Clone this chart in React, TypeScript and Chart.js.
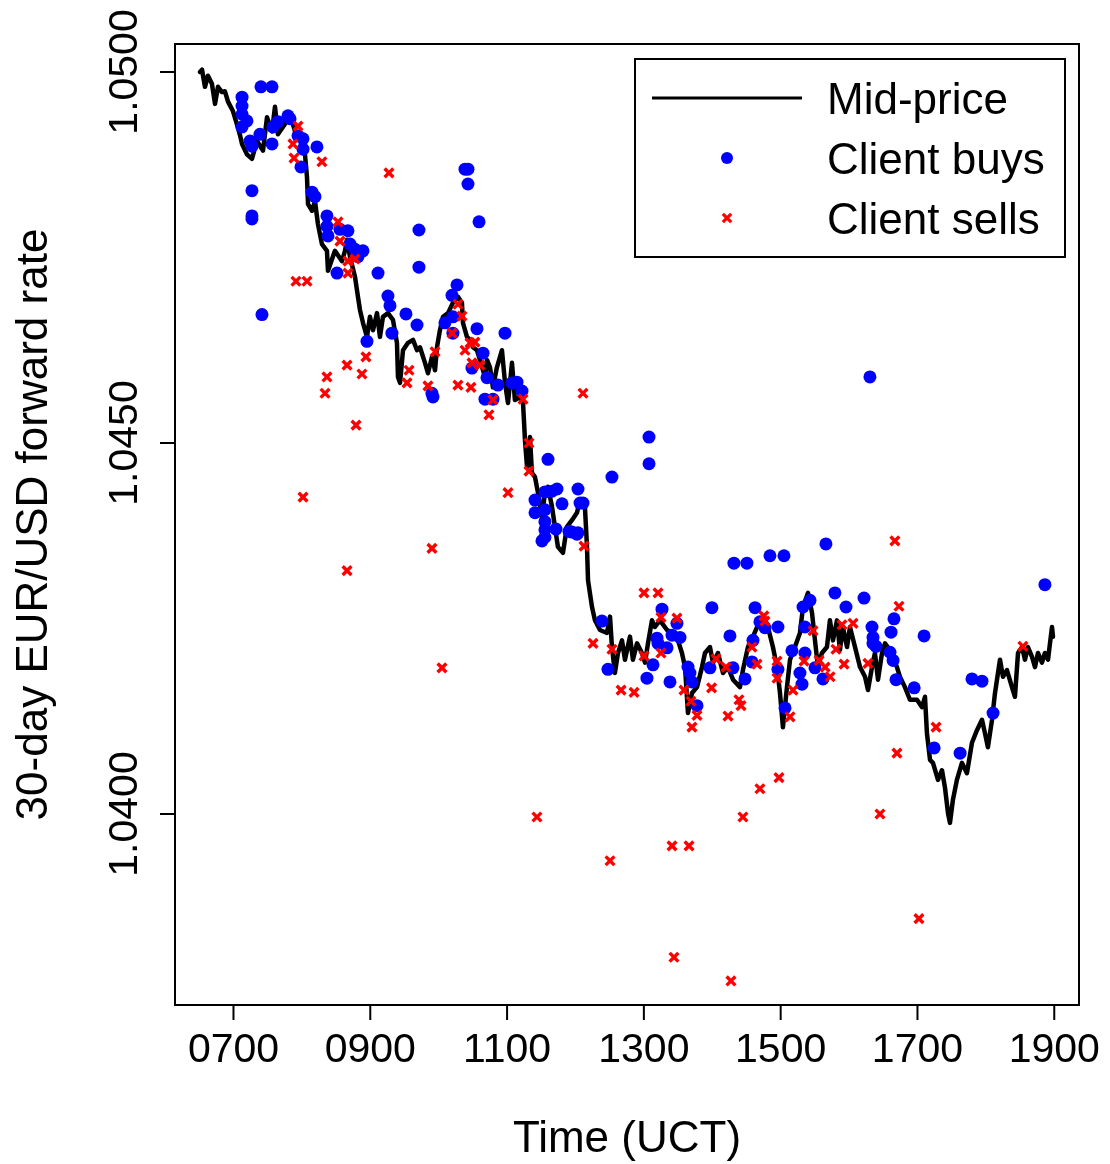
import React, { useEffect, useRef } from "react";
import { Chart, registerables } from "chart.js";

Chart.register(...registerables);

// Time in minutes after midnight (UCT), rate = 30-day EUR/USD forward
const midTime = [390.6,392.4,395.0,397.6,401.1,403.8,406.4,409.9,412.5,415.2,419.6,423.1,425.7,427.5,431.8,436.2,440.6,445.9,449.4,453.8,456.4,459.0,465.2,469.6,474.0,478.3,482.7,484.5,485.4,488.9,491.5,494.1,497.6,502.0,502.9,509.0,515.2,517.8,519.6,522.2,526.6,529.2,531.0,533.6,537.1,539.7,542.4,545.9,548.5,551.1,555.5,559.9,563.4,564.3,566.1,568.7,573.1,577.5,581.0,583.6,588.0,590.6,594.1,596.8,598.5,601.1,603.8,608.2,612.5,616.9,620.4,621.3,624.8,627.5,630.1,633.6,636.2,640.6,642.4,645.0,647.6,651.1,655.5,658.2,660.8,664.3,666.9,671.3,674.0,675.7,677.5,680.1,681.8,684.5,687.1,690.6,693.2,695.9,699.4,702.0,704.6,709.0,712.5,716.9,721.3,724.0,728.3,730.1,731.0,734.5,737.1,741.5,747.6,750.3,752.0,754.6,757.3,760.8,763.4,767.8,770.4,774.0,778.3,781.0,783.6,787.1,789.7,794.1,800.3,805.5,809.9,813.4,816.1,818.7,822.2,826.6,831.0,833.6,838.0,840.6,845.0,849.4,853.8,858.2,864.3,866.9,871.3,875.7,881.8,888.0,893.2,896.8,899.4,902.0,905.5,908.2,912.5,916.9,919.6,924.0,927.5,930.1,932.7,936.2,940.6,943.2,945.9,949.4,952.0,954.6,958.2,960.8,965.2,969.6,974.0,976.6,980.1,982.7,985.4,988.9,991.5,995.9,1002.0,1004.6,1009.0,1013.4,1019.6,1024.0,1026.6,1028.3,1031.0,1033.6,1038.0,1041.5,1044.1,1046.8,1048.5,1051.1,1054.6,1059.0,1063.4,1067.8,1072.2,1076.6,1079.2,1081.8,1085.4,1088.0,1092.4,1095.0,1098.5,1102.9,1105.5,1108.2,1111.7,1114.3,1116.9,1120.4,1123.1,1125.7,1129.2,1131.8,1134.5,1138.0,1138.9];
const midRate = [1.05000,1.05003,1.04980,1.04995,1.04984,1.04957,1.04980,1.04973,1.04974,1.04960,1.04947,1.04929,1.04915,1.04903,1.04889,1.04883,1.04907,1.04894,1.04939,1.04920,1.04953,1.04916,1.04930,1.04943,1.04920,1.04912,1.04889,1.04858,1.04822,1.04813,1.04826,1.04795,1.04768,1.04759,1.04732,1.04759,1.04745,1.04759,1.04774,1.04751,1.04724,1.04697,1.04679,1.04662,1.04643,1.04670,1.04652,1.04675,1.04643,1.04670,1.04675,1.04666,1.04635,1.04589,1.04581,1.04625,1.04635,1.04639,1.04625,1.04629,1.04608,1.04594,1.04616,1.04598,1.04629,1.04652,1.04670,1.04675,1.04689,1.04697,1.04689,1.04662,1.04643,1.04639,1.04629,1.04625,1.04612,1.04589,1.04612,1.04602,1.04575,1.04602,1.04625,1.04581,1.04554,1.04608,1.04558,1.04562,1.04554,1.04504,1.04468,1.04508,1.04460,1.04454,1.04433,1.04400,1.04433,1.04441,1.04414,1.04387,1.04360,1.04352,1.04387,1.04396,1.04406,1.04423,1.04414,1.04360,1.04315,1.04279,1.04261,1.04248,1.04244,1.04266,1.04225,1.04190,1.04217,1.04234,1.04208,1.04239,1.04208,1.04230,1.04217,1.04204,1.04230,1.04261,1.04252,1.04261,1.04248,1.04244,1.04234,1.04217,1.04198,1.04136,1.04163,1.04171,1.04198,1.04217,1.04225,1.04204,1.04217,1.04190,1.04198,1.04181,1.04171,1.04194,1.04225,1.04239,1.04261,1.04257,1.04225,1.04198,1.04163,1.04117,1.04171,1.04208,1.04225,1.04244,1.04279,1.04298,1.04271,1.04234,1.04198,1.04217,1.04225,1.04261,1.04234,1.04261,1.04221,1.04252,1.04225,1.04252,1.04225,1.04198,1.04185,1.04167,1.04198,1.04217,1.04181,1.04217,1.04230,1.04221,1.04198,1.04185,1.04171,1.04154,1.04154,1.04144,1.04158,1.04109,1.04073,1.04069,1.04046,1.04059,1.04036,1.04001,1.03988,1.04019,1.04046,1.04069,1.04055,1.04096,1.04113,1.04127,1.04109,1.04090,1.04127,1.04163,1.04208,1.04185,1.04194,1.04171,1.04158,1.04217,1.04225,1.04208,1.04225,1.04212,1.04198,1.04217,1.04204,1.04217,1.04208,1.04252,1.04239];

const buyTime = [444.1,453.8,427.5,427.5,427.5,431.8,427.5,434.5,436.2,443.2,453.8,454.6,459.0,467.8,469.6,476.6,481.0,481.0,493.2,479.2,436.2,436.2,436.2,488.9,491.5,502.0,502.0,502.9,513.4,520.4,522.2,526.6,533.6,529.2,510.8,445.0,537.1,546.8,582.7,582.7,623.1,625.7,625.7,635.4,555.5,557.3,571.3,581.0,616.1,611.7,612.5,605.5,612.5,633.6,658.2,559.0,638.9,642.4,652.0,664.3,668.7,673.1,640.6,647.6,594.1,595.0,629.2,695.9,684.5,693.2,699.4,703.8,708.2,722.2,724.0,726.6,684.5,693.2,693.2,693.2,702.9,714.3,722.2,690.6,693.2,784.5,784.5,752.0,716.9,721.3,743.2,748.5,782.7,788.0,795.9,791.5,792.4,800.3,802.9,804.7,809.0,811.7,818.7,820.4,822.2,826.6,838.0,839.7,855.5,859.0,870.4,877.5,875.7,874.8,868.7,858.2,890.6,886.2,902.9,939.7,881.8,897.6,897.6,903.8,909.9,916.9,918.7,921.3,921.3,919.6,925.7,930.1,937.1,947.6,957.3,973.1,980.1,981.0,981.0,983.6,999.4,996.8,995.9,998.6,1001.2,1017.1,1025.8,1034.6,1057.4,1067.8,1076.6,1086.3,1131.8,978.3];
const buyRate = [1.04980,1.04980,1.04966,1.04954,1.04943,1.04934,1.04926,1.04907,1.04900,1.04916,1.04903,1.04926,1.04933,1.04941,1.04937,1.04914,1.04910,1.04896,1.04899,1.04872,1.04840,1.04806,1.04802,1.04838,1.04832,1.04806,1.04792,1.04779,1.04788,1.04786,1.04768,1.04761,1.04759,1.04751,1.04729,1.04673,1.04637,1.04729,1.04787,1.04737,1.04869,1.04869,1.04849,1.04798,1.04698,1.04685,1.04674,1.04659,1.04713,1.04699,1.04670,1.04662,1.04648,1.04654,1.04648,1.04648,1.04621,1.04588,1.04578,1.04581,1.04582,1.04570,1.04559,1.04559,1.04567,1.04562,1.04601,1.04478,1.04423,1.04434,1.04435,1.04438,1.04418,1.04438,1.04419,1.04419,1.04406,1.04410,1.04394,1.04383,1.04384,1.04381,1.04379,1.04368,1.04373,1.04508,1.04472,1.04454,1.04380,1.04377,1.04260,1.04195,1.04183,1.04201,1.04276,1.04237,1.04230,1.04224,1.04178,1.04241,1.04257,1.04238,1.04198,1.04190,1.04178,1.04146,1.04197,1.04278,1.04240,1.04338,1.04338,1.04278,1.04234,1.04205,1.04182,1.04197,1.04348,1.04251,1.04348,1.04364,1.04259,1.04252,1.04195,1.04143,1.04220,1.04190,1.04175,1.04217,1.04252,1.04279,1.04288,1.04197,1.04182,1.04298,1.04279,1.04291,1.04252,1.04238,1.04230,1.04226,1.04263,1.04245,1.04218,1.04207,1.04181,1.04170,1.04240,1.04089,1.04082,1.04182,1.04179,1.04136,1.04309,1.04589];

const sellTime = [476.6,472.2,473.1,497.6,556.4,511.7,513.4,520.4,526.6,520.4,474.8,484.5,616.9,620.4,611.7,596.8,623.1,627.5,631.8,629.2,636.2,574.0,572.2,590.6,616.9,628.3,647.6,644.1,674.0,679.2,679.2,536.2,519.6,532.7,527.5,502.0,500.3,481.0,594.1,519.6,602.9,660.8,726.6,727.5,780.1,792.4,795.0,809.0,735.4,752.0,780.1,795.0,760.0,771.4,815.2,821.3,826.6,822.2,843.2,852.0,839.4,853.8,863.4,865.2,874.8,879.2,885.3,886.2,896.8,896.8,910.8,908.2,686.2,750.3,804.7,819.6,866.9,881.8,898.5,806.4,856.4,1000.2,1003.8,928.4,920.5,933.7,939.0,943.4,948.5,955.6,953.8,963.5,976.6,1036.3,1002.0,987.1,1021.3,1112.5];
const sellRate = [1.04927,1.04903,1.04884,1.04879,1.04864,1.04798,1.04772,1.04745,1.04748,1.04729,1.04718,1.04718,1.04687,1.04671,1.04648,1.04623,1.04625,1.04635,1.04636,1.04608,1.04605,1.04598,1.04581,1.04577,1.04578,1.04575,1.04558,1.04538,1.04559,1.04500,1.04462,1.04616,1.04605,1.04593,1.04524,1.04589,1.04567,1.04427,1.04358,1.04328,1.04197,1.04433,1.04567,1.04361,1.04298,1.04298,1.04265,1.04264,1.04230,1.04222,1.04213,1.04217,1.04167,1.04164,1.04167,1.04152,1.04133,1.04117,1.04209,1.04198,1.04170,1.04132,1.04154,1.04146,1.04225,1.04202,1.04267,1.04260,1.04206,1.04183,1.04167,1.04131,1.03996,1.03937,1.03957,1.03957,1.03996,1.04034,1.04049,1.03807,1.03775,1.04368,1.04280,1.04247,1.04206,1.04207,1.04198,1.04185,1.04222,1.04202,1.04255,1.04257,1.04203,1.04117,1.04082,1.04000,1.03859,1.04226];

const xTickValues = [420, 540, 660, 780, 900, 1020, 1140];
const xTickLabels = ["0700", "0900", "1100", "1300", "1500", "1700", "1900"];
const yTickValues = [1.04, 1.045, 1.05];
const yTickLabels = ["1.0400", "1.0450", "1.0500"];
const legendLabels = ["Mid-price", "Client buys", "Client sells"];
const xTitle = "Time (UCT)";
const yTitle = "30-day EUR/USD forward rate";

const FONT = '"Liberation Sans", Arial, Helvetica, sans-serif';

export default function App() {
  const ref = useRef<HTMLCanvasElement>(null);

  useEffect(() => {
    const canvas = ref.current;
    if (!canvas) return;
    const toXY = (xs: number[], ys: number[]) => xs.map((x, i) => ({ x, y: ys[i] }));

    const framePlugin = {
      id: "rframe",
      afterDraw(chart: any) {
        const { ctx, chartArea: a, scales } = chart;
        const xs = scales.x;
        const ys = scales.y;
        ctx.save();
        ctx.strokeStyle = "#000";
        ctx.fillStyle = "#000";
        ctx.lineWidth = 2;
        ctx.strokeRect(a.left, a.top, a.right - a.left, a.bottom - a.top);

        ctx.font = `41px ${FONT}`;
        ctx.textAlign = "center";
        ctx.textBaseline = "alphabetic";
        xTickValues.forEach((v, i) => {
          const px = xs.getPixelForValue(v);
          ctx.beginPath();
          ctx.moveTo(px, a.bottom);
          ctx.lineTo(px, a.bottom + 15);
          ctx.stroke();
          ctx.fillText(xTickLabels[i], px, a.bottom + 57);
        });
        yTickValues.forEach((v, i) => {
          const py = ys.getPixelForValue(v);
          ctx.beginPath();
          ctx.moveTo(a.left - 15, py);
          ctx.lineTo(a.left, py);
          ctx.stroke();
          ctx.save();
          ctx.translate(a.left - 38, py);
          ctx.rotate(-Math.PI / 2);
          ctx.fillText(yTickLabels[i], 0, 0);
          ctx.restore();
        });

        ctx.font = `44px ${FONT}`;
        ctx.fillText(xTitle, (a.left + a.right) / 2, a.bottom + 147);
        ctx.save();
        ctx.translate(47, (a.top + a.bottom) / 2);
        ctx.rotate(-Math.PI / 2);
        ctx.fillText(yTitle, 0, 0);
        ctx.restore();

        // legend
        const lx = a.right - 444;
        const ly = a.top + 15;
        ctx.lineWidth = 2;
        ctx.strokeRect(lx, ly, 430, 198);
        const symX = lx + 92;
        const rows = [ly + 39, ly + 99, ly + 159];
        ctx.lineWidth = 3;
        ctx.beginPath();
        ctx.moveTo(lx + 17, rows[0]);
        ctx.lineTo(lx + 167, rows[0]);
        ctx.stroke();
        ctx.fillStyle = "#0000FF";
        ctx.beginPath();
        ctx.arc(symX, rows[1], 6, 0, Math.PI * 2);
        ctx.fill();
        ctx.strokeStyle = "#FF0000";
        ctx.lineWidth = 3.2;
        const c = 4.2;
        ctx.beginPath();
        ctx.moveTo(symX - c, rows[2] - c);
        ctx.lineTo(symX + c, rows[2] + c);
        ctx.moveTo(symX + c, rows[2] - c);
        ctx.lineTo(symX - c, rows[2] + c);
        ctx.stroke();
        ctx.fillStyle = "#000";
        ctx.textAlign = "left";
        legendLabels.forEach((t, i) => {
          ctx.fillText(t, lx + 192, rows[i] + 16);
        });
        ctx.restore();
      },
    };

    const chart = new Chart(canvas, {
      type: "scatter",
      data: {
        datasets: [
          {
            label: legendLabels[0],
            data: toXY(midTime, midRate),
            showLine: true,
            borderColor: "#000000",
            borderWidth: 4.5,
            borderJoinStyle: "round",
            borderCapStyle: "round",
            pointRadius: 0,
            tension: 0,
            order: 3,
          } as any,
          {
            label: legendLabels[1],
            data: toXY(buyTime, buyRate),
            showLine: false,
            pointStyle: "circle",
            pointRadius: 6.5,
            pointBackgroundColor: "#0000FF",
            pointBorderColor: "#0000FF",
            pointBorderWidth: 0,
            order: 2,
          } as any,
          {
            label: legendLabels[2],
            data: toXY(sellTime, sellRate),
            showLine: false,
            pointStyle: "crossRot",
            pointRadius: 6.2,
            pointBackgroundColor: "#FF0000",
            pointBorderColor: "#FF0000",
            pointBorderWidth: 3.4,
            order: 1,
          } as any,
        ],
      },
      options: {
        responsive: false,
        animation: false,
        devicePixelRatio: 1,
        events: [],
        layout: { padding: { left: 175, top: 44, right: 31, bottom: 159 } },
        plugins: { legend: { display: false }, tooltip: { enabled: false } },
        scales: {
          x: { type: "linear", display: false, min: 368.7, max: 1161.7 },
          y: { type: "linear", display: false, min: 1.037426, max: 1.050377 },
        },
      },
      plugins: [framePlugin],
    } as any);

    return () => chart.destroy();
  }, []);

  return (
    <canvas
      ref={ref}
      width={1110}
      height={1164}
      style={{ position: "absolute", left: 0, top: 0, width: 1110, height: 1164, background: "#fff" }}
    />
  );
}
